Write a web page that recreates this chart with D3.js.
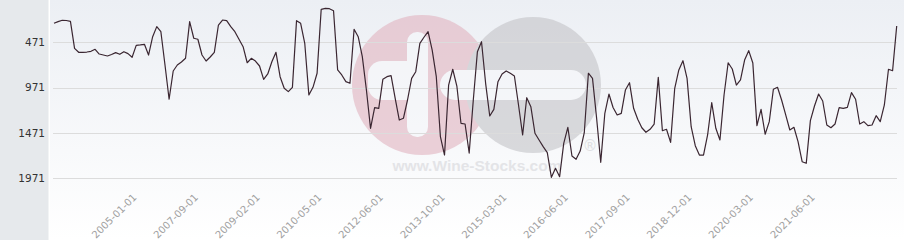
<!DOCTYPE html>
<html>
<head>
<meta charset="utf-8">
<script src="https://cdn.jsdelivr.net/npm/d3@7"></script>
<style>
  body { margin: 0; background: #fff; }
  svg { display: block; }
</style>
</head>
<body>
<div id="vis-container"></div>
<script>
let w = 904;
let h = 240;

// rank values, one per point (lower = better, axis is reversed)
let values = [
  261, 243, 228, 230, 239, 537, 581, 581, 578, 570, 548, 600, 611, 622, 605, 585, 603, 574, 596, 636,
  504, 500, 493, 611, 409, 298, 354, 721, 1099, 787, 721, 688, 647,
  243, 426, 437, 611, 677, 633, 581, 280, 225, 232, 298, 354, 437, 519, 696, 647, 677, 732, 879, 820,
  685, 581, 850, 978, 1015, 967, 232, 261, 482, 1052, 967, 812, 107, 96, 100, 122,
  776, 831, 905, 923, 327, 409, 629, 997, 1419, 1192, 1199, 879, 850, 839, 1088, 1328, 1309, 1107,
  868, 795, 482, 415, 354, 556, 850, 1512, 1714, 942, 768, 953, 1364, 1372, 1692,
  1107, 574, 464, 923, 1283, 1210, 905, 820, 787, 812, 842, 1162, 1493, 1082, 1181, 1474, 1548, 1622,
  1688, 1960, 1860, 1953, 1585, 1408, 1725, 1761, 1670, 1468, 812, 868, 1309, 1794, 1254, 1041,
  1190, 1272, 1254, 997, 916, 1199, 1320, 1413, 1463, 1430, 1372, 857, 1446, 1430, 1574, 978, 776,
  674, 868, 1402, 1611, 1714, 1714, 1493, 1137, 1419, 1548, 1052, 696, 765, 942, 886, 666, 563,
  699, 1390, 1210, 1485, 1346, 989, 967, 1107, 1272, 1438, 1408, 1567, 1788, 1805, 1335, 1173, 1041,
  1118, 1383, 1413, 1372, 1192, 1199, 1188, 1026, 1099, 1372, 1346, 1390, 1383, 1280, 1346, 1162,
  768, 784, 291
];

let xLabels = ["2005-01-01", "2007-09-01", "2009-02-01", "2010-05-01", "2012-06-01", "2013-10-01",
  "2015-03-01", "2016-06-01", "2017-09-01", "2018-12-01", "2020-03-01", "2021-06-01"];
let labelStart = 20;
let labelStep = 15;

let yTicks = [471, 971, 1471, 1971];

let svg = d3.select("#vis-container")
  .append("svg")
  .attr("width", w)
  .attr("height", h);

let defs = svg.append("defs");
let grad = defs.append("linearGradient")
  .attr("id", "bg")
  .attr("x1", 0).attr("y1", 0).attr("x2", 0).attr("y2", 1);
grad.append("stop").attr("offset", "0%").attr("stop-color", "#eceff4");
grad.append("stop").attr("offset", "100%").attr("stop-color", "#ffffff");

// plot background
svg.append("rect")
  .attr("x", 50).attr("y", 0)
  .attr("width", w - 50).attr("height", h)
  .attr("fill", "url(#bg)");

// left panel
svg.append("rect")
  .attr("x", 0).attr("y", 0)
  .attr("width", 48.5).attr("height", h)
  .attr("fill", "#e6e9ec");

let x = d3.scalePoint()
  .domain(d3.range(values.length))
  .range([54, 896.7]);

let y = d3.scaleLinear()
  .domain([471, 1971])
  .range([42.33, 178.33]);

// watermark
let wm = svg.append("g").attr("opacity", 0.6);
wm.append("circle").attr("cx", 422).attr("cy", 85).attr("r", 70).attr("fill", "#e2b4c0");
wm.append("circle").attr("cx", 533).attr("cy", 85).attr("r", 68).attr("fill", "#c4c4c8");
wm.append("rect").attr("x", 407).attr("y", 32).attr("width", 21).attr("height", 105)
  .attr("rx", 10).attr("fill", "#f6f7fa");
wm.append("rect").attr("x", 368).attr("y", 61).attr("width", 60).attr("height", 39)
  .attr("rx", 14).attr("fill", "#f6f7fa");
wm.append("rect").attr("x", 440).attr("y", 70).attr("width", 146).attr("height", 30)
  .attr("rx", 15).attr("fill", "#f6f7fa");
wm.append("text")
  .attr("x", 477).attr("y", 171)
  .attr("text-anchor", "middle")
  .attr("font-family", "Liberation Sans, Arial, sans-serif")
  .attr("font-weight", "bold")
  .attr("font-size", 15.5)
  .attr("fill", "#d6d6da")
  .text("www.Wine-Stocks.com");
wm.append("text")
  .attr("x", 590).attr("y", 151)
  .attr("text-anchor", "middle")
  .attr("font-family", "DejaVu Sans, sans-serif")
  .attr("font-size", 15)
  .attr("fill", "#cfcfd3")
  .text("\u00ae");

// grid
svg.append("g")
  .selectAll("line")
  .data(yTicks)
  .enter()
  .append("line")
  .attr("x1", 53).attr("x2", 897)
  .attr("y1", d => Math.round(y(d)) + 0.5)
  .attr("y2", d => Math.round(y(d)) + 0.5)
  .attr("stroke", "#dcdcdc")
  .attr("stroke-width", 1);

// y labels
svg.append("g")
  .selectAll("text")
  .data(yTicks)
  .enter()
  .append("text")
  .attr("x", 45)
  .attr("y", d => y(d))
  .attr("dy", "0.36em")
  .attr("text-anchor", "end")
  .attr("font-family", "DejaVu Sans, sans-serif")
  .attr("font-size", 10.5)
  .attr("fill", "#333")
  .text(d => d);

// x labels
svg.append("g")
  .selectAll("text")
  .data(xLabels)
  .enter()
  .append("text")
  .attr("transform", (d, i) => {
    let tx = x(labelStart + i * labelStep) + 1;
    return "translate(" + tx + ",198) rotate(-45)";
  })
  .attr("text-anchor", "end")
  .attr("font-family", "DejaVu Sans, sans-serif")
  .attr("font-size", 10)
  .attr("fill", "#a0a0a0")
  .text(d => d);

// line
let line = d3.line()
  .x((d, i) => x(i))
  .y(d => y(d));

svg.append("path")
  .datum(values)
  .attr("d", line)
  .attr("fill", "none")
  .attr("stroke", "#3a2631")
  .attr("stroke-width", 1.2)
  .attr("stroke-linejoin", "round");
</script>
</body>
</html>
